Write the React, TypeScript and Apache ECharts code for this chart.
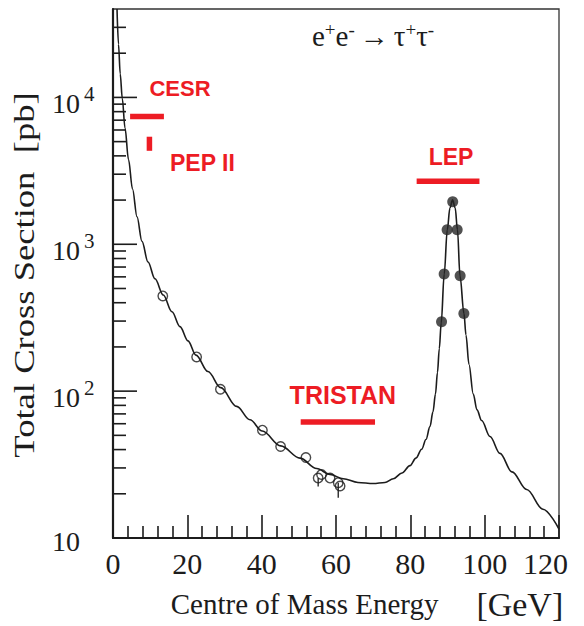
import React, { useEffect, useRef } from 'react';
import * as echarts from 'echarts';

// ---- data ----
const curveEnergy = [1.08, 1.48, 1.94, 2.5, 3.23, 4.17, 5.25, 6.46, 7.8, 9.42, 11.3, 13.53, 15.87, 18.03, 20.18, 22.33, 25.56, 28.98, 33.28, 36.86, 40.17, 45.12, 50.31, 54.8, 58.38, 61.96, 65.91, 70.03, 73.18, 75.41, 77.75, 79.9, 81.52, 83.05, 84.21, 85.28, 86.09, 86.76, 87.3, 87.79, 88.3, 89.12, 89.94, 90.66, 91.36, 92.06, 92.68, 93.36, 94.43, 94.97, 95.78, 96.93, 97.93, 99.19, 101.43, 104.12, 107.35, 111.3, 115.68, 120];
const curveSigma = [40000, 23000, 14500, 9840, 6190, 3775, 2377, 1541, 1047, 757, 582, 451, 347, 275, 220, 176, 136, 105.6, 78.7, 63.8, 53.5, 42.4, 35.0, 29.7, 27.1, 25.3, 23.9, 23.5, 23.9, 25.3, 27.7, 31.1, 35.0, 40.2, 46.9, 57.3, 72.3, 95.5, 134, 194.5, 290, 627, 1256, 1770, 2005, 1770, 1256, 610, 338, 241, 152, 95.5, 74.6, 63.1, 49.1, 37.7, 28.2, 21.4, 15.7, 11.5];

const lowEnergy = [13.4, 22.5, 28.9, 40.2, 45.1, 51.9, 55.2, 56.1, 58.4, 60.6, 61.1];
const lowSigma = [445, 171, 103, 54.2, 42, 35.3, 25.6, 27.1, 25.6, 23.8, 22.6];

const errEnergy = [55.2, 60.6];
const errLow = [22.4, 18.8];
const errHigh = [25.6, 23.8];

const lepEnergy = [88.4, 89.1, 89.9, 91.4, 92.6, 93.4, 94.4];
const lepSigma = [297, 627, 1256, 1945, 1256, 610, 338];

const facilityNames = ['CESR', 'PEP II', 'TRISTAN', 'LEP'];
const facilityEMin = [4.6, 9.8, 50.5, 81.7];
const facilityEMax = [13.7, 9.8, 70.5, 98.6];
const facilitySigmaLow = [7420, 4330, 61.7, 2690];
const facilitySigmaHigh = [7420, 5400, 61.7, 2690];

const yMajorTicks = [10, 100, 1000, 10000];
const yMinorTicks = [20, 30, 40, 50, 60, 70, 80, 90, 200, 300, 400, 500, 600, 700, 800, 900, 2000, 3000, 4000, 5000, 6000, 7000, 8000, 9000, 20000, 30000];
const xTickLabels = [0, 20, 40, 60, 80, 100, 120];

// ---- styling (kept apart from data) ----
const INK = '#1c1c1c';
const RED = '#ed1c24';
const SERIF = '"Liberation Serif", "Times New Roman", serif';
const SANS = '"Liberation Sans", Arial, sans-serif';
const labelOffsets: Record<string, [number, number, number]> = {
  'CESR': [33, -28, 22],
  'PEP II': [53, 19, 23],
  'TRISTAN': [5, -27, 25],
  'LEP': [3, -24, 23],
};

export default function App() {
  const ref = useRef<HTMLDivElement>(null);
  useEffect(() => {
    if (!ref.current) return;
    const chart = echarts.init(ref.current, undefined, { renderer: 'svg' });

    const tickData = [
      ...yMajorTicks.map((v) => [0, v, 1]),
      ...yMinorTicks.map((v) => [0, v, 0]),
    ];
    const facilityData = facilityNames.map((n, i) => [facilityEMin[i], facilityEMax[i], facilitySigmaLow[i], facilitySigmaHigh[i]]);

    const option: any = {
      animation: false,
      backgroundColor: '#ffffff',
      title: {
        text: '{n|e}{s|+}{n|e}{s|-} {n|\u2192} {n|\u03c4}{s|+}{n|\u03c4}{s|-}',
        left: 312,
        top: 20,
        padding: 0,
        textStyle: {
          fontWeight: 'normal',
          rich: {
            n: { fontFamily: SERIF, fontSize: 29, lineHeight: 29, fontWeight: 'normal', color: INK, padding: [3, 0, 0, 0] },
            s: { fontFamily: SERIF, fontSize: 19, lineHeight: 19, fontWeight: 'normal', color: INK, verticalAlign: 'top' },
          },
        },
      },
      grid: {
        left: 113, right: 25, top: 9, bottom: 79.5,
        show: true, borderColor: '#333', borderWidth: 1.3, backgroundColor: 'transparent',
      },
      xAxis: {
        type: 'value', min: 0, max: 120, interval: 20,
        name: '{a|Centre of Mass Energy}{g|[GeV]}',
        nameLocation: 'middle',
        nameGap: 49,
        nameTextStyle: {
          fontFamily: SERIF, fontSize: 29, color: INK, padding: [0, 0, 0, 62],
          rich: {
            a: { fontFamily: SERIF, fontSize: 29, color: INK },
            g: { fontFamily: SERIF, fontSize: 34, color: INK, padding: [0, 0, 0, 38] },
          },
        },
        axisLine: { lineStyle: { color: INK, width: 2.2 } },
        axisTick: { show: true, inside: true, length: 23, lineStyle: { color: INK, width: 1.6 } },
        minorTick: { show: true, splitNumber: 5, length: 12, lineStyle: { color: INK, width: 1.6 } },
        splitLine: { show: false },
        axisLabel: {
          fontFamily: SERIF, fontSize: 30, color: INK, margin: 10,
          formatter: (v: number) => {
            const r = Math.round(v);
            if (!xTickLabels.includes(r)) return '';
            return r === 120 ? '{m|120}' : String(r);
          },
          rich: { m: { fontFamily: SERIF, fontSize: 30, color: INK, padding: [0, 27, 0, 0] } },
        },
      },
      yAxis: {
        type: 'log', logBase: 10, min: 10, max: 40000,
        axisLine: { show: true, lineStyle: { color: INK, width: 2.2 } },
        axisTick: { show: false },
        minorTick: { show: false },
        splitLine: { show: false },
        axisLabel: {
          align: 'left', margin: 61, verticalAlign: 'middle',
          formatter: (v: number) => {
            const e = Math.log10(v);
            const r = Math.round(e);
            if (Math.abs(e - r) > 1e-6) return '';
            if (r === 1) return '{c|10}';
            return '{b|10}{s|' + r + '}';
          },
          rich: {
            b: { fontFamily: SERIF, fontSize: 28, lineHeight: 28, color: INK, padding: [12, 0, 0, 0] },
            c: { fontFamily: SERIF, fontSize: 28, lineHeight: 28, color: INK, padding: [6, 0, 0, 0] },
            s: { fontFamily: SERIF, fontSize: 21, lineHeight: 21, color: INK, verticalAlign: 'top', padding: [0, 0, 0, 4] },
          },
        },
      },
      graphic: [
        {
          type: 'text', x: 24, y: 275, rotation: Math.PI / 2, scaleX: 1.22,
          style: {
            text: 'Total Cross Section  [pb]',
            font: '30px "Liberation Serif"',
            fill: INK,
            align: 'center', verticalAlign: 'middle',
            textAlign: 'center', textVerticalAlign: 'middle',
          },
        },
      ],
      series: [
        {
          type: 'custom', name: 'yticks', data: tickData, silent: true, z: 5,
          renderItem: (params: any, api: any) => {
            const p = api.coord([0, api.value(1)]);
            const len = api.value(2) ? 24 : 13;
            return {
              type: 'line',
              shape: { x1: p[0], y1: p[1], x2: p[0] + len, y2: p[1] },
              style: { stroke: INK, lineWidth: 1.6 },
            };
          },
        },
        {
          type: 'line', name: 'theory',
          data: curveEnergy.map((e, i) => [e, curveSigma[i]]),
          showSymbol: false, smooth: 0.35, smoothMonotone: 'x',
          lineStyle: { color: INK, width: 1.6 }, z: 3,
        },
        {
          type: 'custom', name: 'errors',
          data: errEnergy.map((e, i) => [e, errLow[i], errHigh[i]]),
          encode: { x: 0, y: [1, 2] }, z: 4,
          renderItem: (params: any, api: any) => {
            const a = api.coord([api.value(0), api.value(1)]);
            const b = api.coord([api.value(0), api.value(2)]);
            return {
              type: 'line',
              shape: { x1: a[0], y1: a[1], x2: b[0], y2: b[1] },
              style: { stroke: INK, lineWidth: 1.3 },
            };
          },
        },
        {
          type: 'scatter', name: 'PETRA/PEP/TRISTAN',
          data: lowEnergy.map((e, i) => [e, lowSigma[i]]),
          symbol: 'circle', symbolSize: 9.5,
          itemStyle: { color: 'rgba(0,0,0,0)', borderColor: INK, borderWidth: 1.4 }, z: 6,
        },
        {
          type: 'scatter', name: 'LEP data',
          data: lepEnergy.map((e, i) => [e, lepSigma[i]]),
          symbol: 'circle', symbolSize: 11,
          itemStyle: { color: '#262626' }, z: 6,
        },
        {
          type: 'custom', name: 'facilities',
          data: facilityData,
          encode: { x: [0, 1], y: [2, 3] }, z: 7,
          renderItem: (params: any, api: any) => {
            const i = params.dataIndex;
            const p1 = api.coord([api.value(0), api.value(2)]);
            const p2 = api.coord([api.value(1), api.value(3)]);
            const name = facilityNames[i];
            const off = labelOffsets[name];
            const cx = (p1[0] + p2[0]) / 2;
            const cy = (p1[1] + p2[1]) / 2;
            return {
              type: 'group',
              children: [
                {
                  type: 'line',
                  shape: { x1: p1[0], y1: p1[1], x2: p2[0], y2: p2[1] },
                  style: { stroke: RED, lineWidth: 5.5, lineCap: 'butt' },
                },
                {
                  type: 'text', x: cx + off[0], y: cy + off[1],
                  style: {
                    text: name, fill: RED,
                    font: 'bold ' + off[2] + 'px ' + SANS,
                    align: 'center', verticalAlign: 'middle',
                    textAlign: 'center', textVerticalAlign: 'middle',
                  },
                },
              ],
            };
          },
        },
      ],
    };
    chart.setOption(option);
    return () => chart.dispose();
  }, []);
  return <div ref={ref} style={{ width: 584, height: 626, position: 'absolute', left: 0, top: 0 }} />;
}
